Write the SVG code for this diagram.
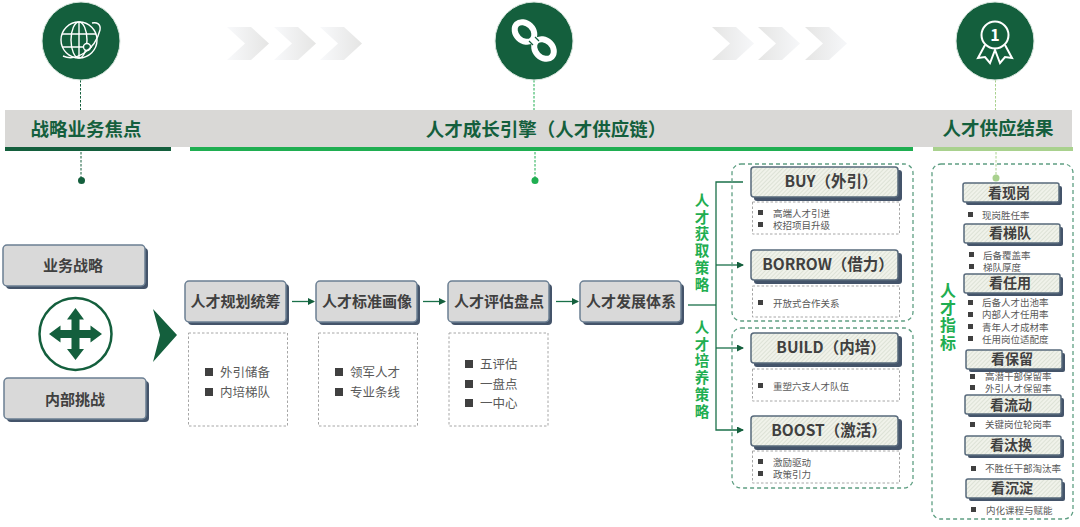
<svg xmlns="http://www.w3.org/2000/svg" width="1080" height="527" viewBox="0 0 1080 527">
<style>
text{font-family:"Noto Sans CJK SC","Liberation Sans",sans-serif}
.hd{font-size:18.500px;font-weight:700;fill:#145f3d;text-anchor:middle}
.nb{fill:#d9d9d9;stroke:#6b7f93;stroke-width:1.5}
.ng{fill:url(#hatch);stroke:#57697b;stroke-width:1.5}
.sh{fill:#44546a}
.nt{font-size:15px;font-weight:700;fill:#404040;text-anchor:middle}
.nr{font-size:15.500px;font-weight:700;fill:#404040;text-anchor:middle}
.nl{font-size:15px;font-weight:700;fill:#404040;text-anchor:middle}
.ns{font-size:14px;font-weight:700;fill:#404040;text-anchor:middle}
.dbox{fill:#fff;stroke:#a6a6a6;stroke-width:1;stroke-dasharray:2.5 2}
.gbox{fill:none;stroke:#5f9f83;stroke-width:1.3;stroke-dasharray:4 3}
.li{font-size:12.5px;fill:#595959}
.ls{font-size:9.5px;fill:#595959}
.bu{fill:#404040}
.v{font-size:14.500px;font-weight:700;fill:#1fae51;writing-mode:vertical-rl;letter-spacing:2.3px}
.v2{font-size:16px;font-weight:700;fill:#1fae51;writing-mode:vertical-rl;letter-spacing:1.5px}
.conn{fill:none;stroke:#1a7049;stroke-width:1.3}
.ic{fill:none;stroke:#fff;stroke-width:1.4}
</style>
<defs>
<marker id="ah" markerWidth="8" markerHeight="8" refX="6" refY="3.5" orient="auto" markerUnits="userSpaceOnUse"><path d="M0 0L7 3.5L0 7z" fill="#145f3d"/></marker>
<pattern id="hatch" width="3" height="3" patternUnits="userSpaceOnUse" patternTransform="rotate(-45)"><rect width="3" height="3" fill="#f0f2ea"/><rect width="3" height="1" fill="#dde2d6"/></pattern>
<linearGradient id="ga"><stop offset="0" stop-color="#f8f9fb"/><stop offset="1" stop-color="#e5e5e4"/></linearGradient>
<linearGradient id="gb"><stop offset="0" stop-color="#e5e5e4"/><stop offset="1" stop-color="#f6f7f9"/></linearGradient>
<path id="chev" d="M0 0H24L42 16.500L24 33H0L18 16.500Z"/>
</defs>
<g id="chevrons">
<g fill="url(#ga)"><use href="#chev" x="227" y="27"/><use href="#chev" x="274" y="27"/><use href="#chev" x="320" y="27"/></g>
<g fill="url(#gb)"><use href="#chev" x="712" y="27"/><use href="#chev" x="758" y="27"/><use href="#chev" x="805" y="27"/></g>
</g>
<g id="band">
<rect x="5" y="110" width="1067" height="37" fill="#d9d8d6"/>
<rect x="5" y="147" width="166" height="4" fill="#145f3d"/>
<rect x="190" y="147" width="723" height="4" fill="#1fae51"/>
<rect x="933" y="147" width="140" height="4" fill="#a9d18e"/>
<text class="hd" x="86" y="136">战略业务焦点</text>
<text class="hd" x="546" y="136">人才成长引擎（人才供应链）</text>
<text class="hd" x="998" y="135">人才供应结果</text>
</g>
<g id="connectors">
<path d="M80.500 80V110M81 152V180" fill="none" stroke="#145f3d" stroke-width="1" stroke-dasharray="2.500 1.500"/>
<path d="M534 80V110M535 152V180" fill="none" stroke="#1fae51" stroke-width="1" stroke-dasharray="2.500 1.500"/>
<path d="M995.500 80V110M996 152V178" fill="none" stroke="#a9d18e" stroke-width="1" stroke-dasharray="2.500 1.500"/>
<path class="conn" marker-end="url(#ah)" d="M292 301.500H314"/>
<path class="conn" marker-end="url(#ah)" d="M423 301.500H445"/>
<path class="conn" marker-end="url(#ah)" d="M556 301.500H578"/>
<path class="conn" d="M688 305H716"/>
<path class="conn" marker-end="url(#ah)" d="M743 182H716V430H743"/>
<path class="conn" marker-end="url(#ah)" d="M716 265H743"/>
<path class="conn" marker-end="url(#ah)" d="M716 348H743"/>
</g>
<g id="c1"><circle cx="81" cy="41" r="39" fill="#145f3d" stroke="#d7e5dd"/>
<g class="ic"><circle cx="79" cy="40" r="18"/><ellipse cx="79" cy="40" rx="8" ry="18"/><path d="M79 22V58M62 34H96M62 47H92"/><circle cx="87" cy="47" r="3.500" fill="#145f3d"/><path d="M63 56C76 62 95 50 100 30C101 24 97 22 92 23"/></g></g>
<g id="c2"><circle cx="534" cy="41" r="39" fill="#145f3d" stroke="#d7e5dd"/>
<g fill="none"><ellipse cx="524.500" cy="32" rx="11" ry="8.500" transform="rotate(45 524.500 32)" stroke="#fff" stroke-width="6"/><ellipse cx="544" cy="49" rx="11" ry="8.500" transform="rotate(45 544 49)" stroke="#fff" stroke-width="6"/><path d="M529 41L533 45M535 37L539 41" stroke="#145f3d" stroke-width="1.200"/></g></g>
<g id="c3"><circle cx="995" cy="41" r="39" fill="#145f3d" stroke="#d7e5dd"/>
<g class="ic"><circle cx="995" cy="35" r="13.500" stroke-width="2"/><path d="M985 45L978 58L985 57L990 63L995 50L1000 63L1005 57L1012 58L1005 45" stroke-width="2"/></g><text x="995" y="41" font-size="16" font-weight="700" fill="#fff" text-anchor="middle">1</text></g>
<circle id="d1" cx="81.500" cy="180.500" r="3.500" fill="#145f3d"/>
<circle id="d2" cx="535" cy="180.500" r="3.500" fill="#1fae51"/>
<circle id="d3" cx="996" cy="178" r="3.500" fill="#a9d18e"/>

<g id="n-biz"><rect class="sh" x="6" y="248" width="142" height="41" rx="4"/><rect class="nb" x="3" y="245" width="142" height="41" rx="4"/><text class="nl" x="73" y="271">业务战略</text></g>
<g id="n-int"><rect class="sh" x="7" y="381" width="142" height="41" rx="4"/><rect class="nb" x="4" y="378" width="142" height="41" rx="4"/><text class="nl" x="75" y="405">内部挑战</text></g>
<g id="cross"><circle cx="75.500" cy="334" r="36" fill="#fff" stroke="#145f3d" stroke-width="2.500"/>
<path fill="#145f3d" d="M75.500 308L84 319.500H79.500V330H90.500V325.500L102 334L90.500 342.500V338H79.500V349H84L75.500 360L67 349H71.500V338H60.500V342.500L49 334L60.500 325.500V330H71.500V319.500H67Z"/></g>
<path id="bigarrow" fill="#145f3d" d="M153 309L177 335L153 362L160 335Z"/>

<g id="n1"><rect class="sh" x="188" y="284" width="101" height="41" rx="4"/><rect class="nb" x="185" y="281" width="101" height="41" rx="4"/><text class="nt" x="235.500" y="307">人才规划统筹</text></g>
<g id="n2"><rect class="sh" x="319" y="284" width="101" height="41" rx="4"/><rect class="nb" x="316" y="281" width="101" height="41" rx="4"/><text class="nt" x="367" y="307">人才标准画像</text></g>
<g id="n3"><rect class="sh" x="451" y="284" width="101" height="41" rx="4"/><rect class="nb" x="448" y="281" width="101" height="41" rx="4"/><text class="nt" x="499" y="307">人才评估盘点</text></g>
<g id="n4"><rect class="sh" x="583" y="284" width="101" height="41" rx="4"/><rect class="nb" x="580" y="281" width="101" height="41" rx="4"/><text class="nt" x="631" y="307">人才发展体系</text></g>

<g id="b1"><rect class="dbox" x="188.500" y="333" width="99" height="93"/>
<rect class="bu" x="205" y="368" width="8" height="8"/><text class="li" x="220" y="377">外引储备</text>
<rect class="bu" x="205" y="388" width="8" height="8"/><text class="li" x="220" y="397">内培梯队</text></g>
<g id="b2"><rect class="dbox" x="318.500" y="333" width="99" height="93"/>
<rect class="bu" x="335" y="368" width="8" height="8"/><text class="li" x="350" y="377">领军人才</text>
<rect class="bu" x="335" y="388" width="8" height="8"/><text class="li" x="350" y="397">专业条线</text></g>
<g id="b3"><rect class="dbox" x="449" y="333" width="99" height="93"/>
<rect class="bu" x="465" y="360" width="8" height="8"/><text class="li" x="480" y="369">五评估</text>
<rect class="bu" x="465" y="380" width="8" height="8"/><text class="li" x="480" y="389">一盘点</text>
<rect class="bu" x="465" y="399" width="8" height="8"/><text class="li" x="480" y="408">一中心</text></g>

<g id="vlabels">
<text class="v" x="702" y="193">人才获取策略</text>
<text class="v" x="702" y="320">人才培养策略</text>
<text class="v2" x="948" y="282">人才指标</text>
</g>
<g id="groups"><rect class="gbox" x="732" y="164" width="181" height="157" rx="9"/><rect class="gbox" x="732" y="328" width="181" height="160" rx="9"/><rect class="gbox" x="932" y="164" width="141" height="355" rx="9"/></g>

<g id="buy"><rect class="sh" x="754" y="170" width="148" height="31" rx="3"/><rect class="ng" x="751" y="167" width="147" height="30" rx="3"/><text class="nr" x="831" y="187">BUY（外引）</text></g>
<g id="buy-d"><rect class="dbox" x="752.500" y="202" width="147" height="32"/><rect class="bu" x="758" y="210" width="5" height="5"/><text class="ls" x="773" y="217">高端人才引进</text><rect class="bu" x="758" y="222" width="5" height="5"/><text class="ls" x="773" y="229">校招项目升级</text></g>
<g id="borrow"><rect class="sh" x="754" y="253" width="148" height="31" rx="3"/><rect class="ng" x="751" y="250" width="147" height="30" rx="3"/><text class="nr" x="828" y="270">BORROW（借力）</text></g>
<g id="borrow-d"><rect class="dbox" x="752.500" y="286" width="147" height="31"/><rect class="bu" x="758" y="300" width="5" height="5"/><text class="ls" x="773" y="307">开放式合作关系</text></g>
<g id="build"><rect class="sh" x="754" y="336" width="148" height="31" rx="3"/><rect class="ng" x="751" y="333" width="147" height="30" rx="3"/><text class="nr" x="831" y="353">BUILD（内培）</text></g>
<g id="build-d"><rect class="dbox" x="752.500" y="369" width="147" height="32"/><rect class="bu" x="758" y="383" width="5" height="5"/><text class="ls" x="773" y="390">重塑六支人才队伍</text></g>
<g id="boost"><rect class="sh" x="754" y="419" width="148" height="31" rx="3"/><rect class="ng" x="751" y="416" width="147" height="30" rx="3"/><text class="nr" x="829" y="436">BOOST（激活）</text></g>
<g id="boost-d"><rect class="dbox" x="752.500" y="451" width="147" height="32"/><rect class="bu" x="758" y="459" width="5" height="5"/><text class="ls" x="773" y="466">激励驱动</text><rect class="bu" x="758" y="471" width="5" height="5"/><text class="ls" x="773" y="478">政策引力</text></g>

<g id="k1"><rect class="sh" x="966" y="186" width="96" height="19" rx="2"/><rect class="ng" x="963" y="183" width="96" height="19" rx="2"/><text class="ns" x="1009" y="198">看现岗</text><rect class="bu" x="968" y="212" width="5" height="5"/><text class="ls" x="982" y="219">现岗胜任率</text></g>
<g id="k2"><rect class="sh" x="967" y="227" width="96" height="19" rx="2"/><rect class="ng" x="964" y="224" width="96" height="19" rx="2"/><text class="ns" x="1010" y="238">看梯队</text><rect class="bu" x="969" y="252" width="5" height="5"/><text class="ls" x="983" y="259">后备覆盖率</text><rect class="bu" x="969" y="264" width="5" height="5"/><text class="ls" x="983" y="271">梯队厚度</text></g>
<g id="k3"><rect class="sh" x="967" y="277" width="96" height="19" rx="2"/><rect class="ng" x="964" y="274" width="96" height="19" rx="2"/><text class="ns" x="1010" y="288">看任用</text><rect class="bu" x="968" y="300" width="5" height="5"/><text class="ls" x="982" y="306">后备人才出池率</text><rect class="bu" x="968" y="312" width="5" height="5"/><text class="ls" x="982" y="318">内部人才任用率</text><rect class="bu" x="968" y="324" width="5" height="5"/><text class="ls" x="982" y="331">青年人才成材率</text><rect class="bu" x="968" y="336" width="5" height="5"/><text class="ls" x="982" y="343">任用岗位适配度</text></g>
<g id="k4"><rect class="sh" x="969" y="353" width="96" height="19" rx="2"/><rect class="ng" x="966" y="350" width="96" height="19" rx="2"/><text class="ns" x="1012" y="364">看保留</text><rect class="bu" x="970" y="374" width="5" height="5"/><text class="ls" x="985" y="380">高潜干部保留率</text><rect class="bu" x="970" y="385" width="5" height="5"/><text class="ls" x="985" y="392">外引人才保留率</text></g>
<g id="k5"><rect class="sh" x="968" y="398" width="96" height="19" rx="2"/><rect class="ng" x="965" y="395" width="96" height="19" rx="2"/><text class="ns" x="1011" y="410">看流动</text><rect class="bu" x="970" y="422" width="5" height="5"/><text class="ls" x="985" y="428">关键岗位轮岗率</text></g>
<g id="k6"><rect class="sh" x="968" y="439" width="96" height="19" rx="2"/><rect class="ng" x="965" y="436" width="96" height="19" rx="2"/><text class="ns" x="1011" y="450">看汰换</text><rect class="bu" x="971" y="466" width="5" height="5"/><text class="ls" x="985" y="472">不胜任干部淘汰率</text></g>
<g id="k7"><rect class="sh" x="969" y="482" width="96" height="19" rx="2"/><rect class="ng" x="966" y="479" width="96" height="19" rx="2"/><text class="ns" x="1012" y="493">看沉淀</text><rect class="bu" x="971" y="507" width="5" height="5"/><text class="ls" x="986" y="514">内化课程与赋能</text></g>
</svg>
